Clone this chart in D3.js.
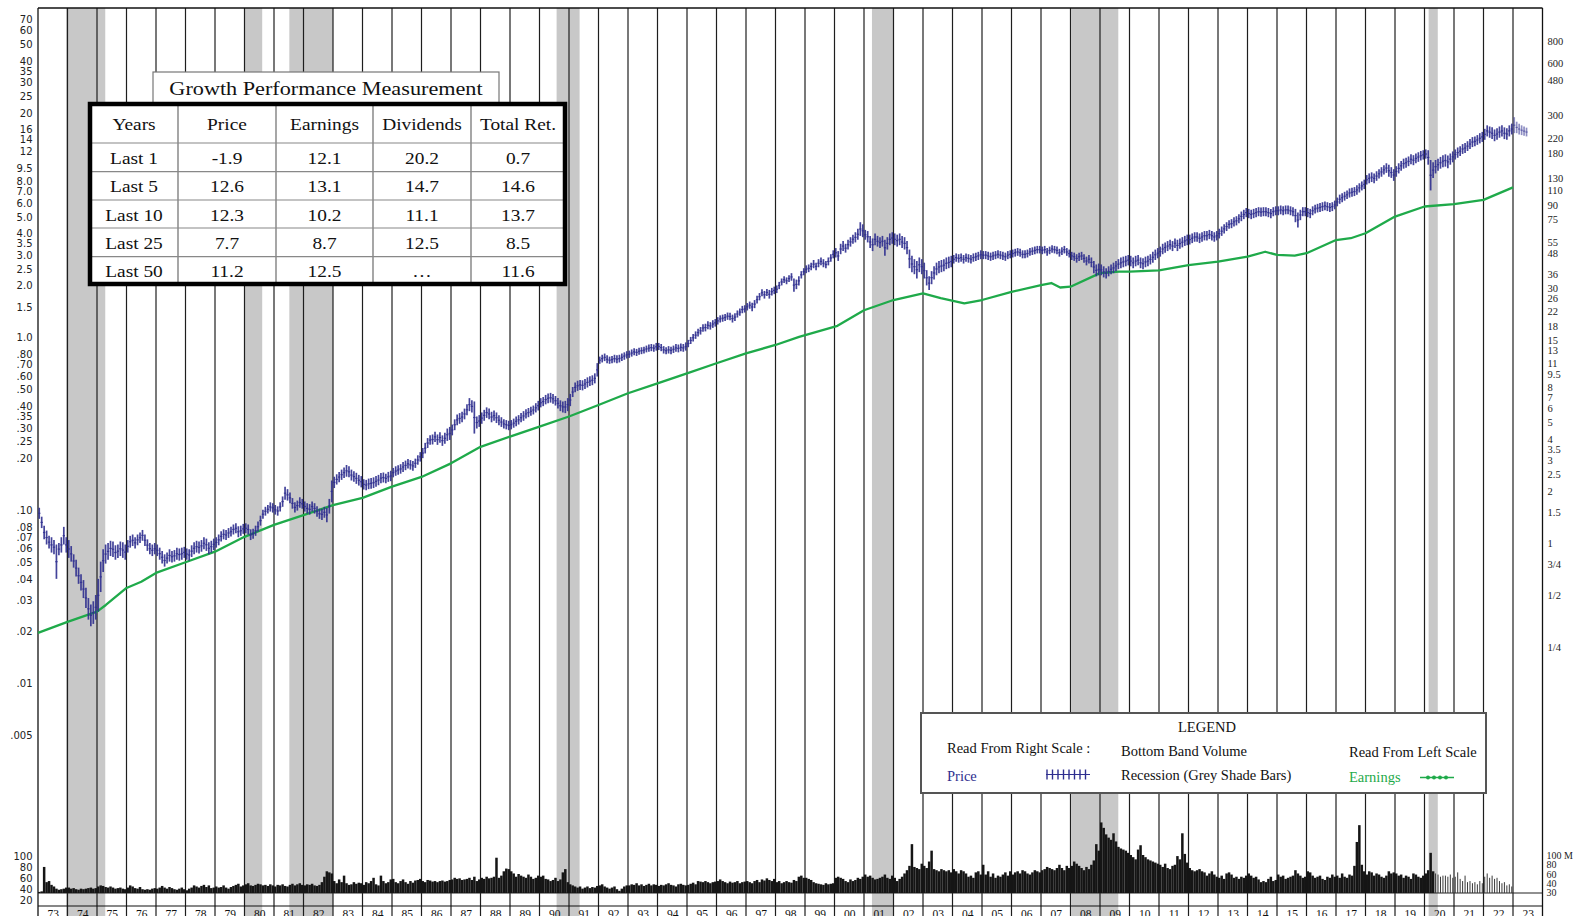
<!DOCTYPE html>
<html>
<head>
<meta charset="utf-8">
<script src="https://cdn.jsdelivr.net/npm/d3@7"></script>
<style>
  body { margin: 0; background: #fff; }
  svg { display: block; }
  .serif { font-family: "Liberation Serif", "Times New Roman", serif; }
  .sans { font-family: "DejaVu Sans", Verdana, sans-serif; }
</style>
</head>
<body>
<svg id="chart" width="1573" height="916"></svg>
<script>
// ---------- data ----------
const firstYear = 1973;
const yearLabels = ["73","74","75","76","77","78","79","80","81","82","83","84","85","86","87","88","89","90",
  "91","92","93","94","95","96","97","98","99","00","01","02","03","04","05","06","07","08","09","10",
  "11","12","13","14","15","16","17","18","19","20","21","22","23"];

// recession periods (fractional years)
const recessionStart = [1973.95, 1980.0, 1981.52, 1990.58, 2001.27, 2008.03, 2020.14];
const recessionEnd   = [1975.28, 1980.6, 1983.0, 1991.36, 2002.0, 2009.62, 2020.45];

// monthly price range (right scale), one row per year
const priceLo = [
  [1.38,1.22,1.05,0.98,0.93,0.88,0.86,0.62,0.85,0.88,0.98,0.88],
  [0.82,0.78,0.72,0.64,0.58,0.53,0.48,0.42,0.36,0.33,0.34,0.36],
  [0.40,0.52,0.68,0.76,0.80,0.84,0.83,0.80,0.82,0.84,0.82,0.80],
  [0.88,0.94,0.96,0.93,0.97,1.00,1.03,0.96,0.90,0.86,0.84,0.86],
  [0.84,0.80,0.76,0.73,0.76,0.78,0.77,0.78,0.80,0.79,0.80,0.82],
  [0.80,0.79,0.83,0.86,0.88,0.87,0.89,0.92,0.90,0.86,0.88,0.91],
  [0.94,0.97,1.02,1.05,1.04,1.07,1.09,1.12,1.14,1.08,1.10,1.13],
  [1.14,1.12,1.04,1.06,1.10,1.16,1.26,1.38,1.44,1.48,1.52,1.50],
  [1.46,1.44,1.52,1.62,1.78,1.76,1.70,1.58,1.50,1.54,1.60,1.58],
  [1.52,1.48,1.46,1.52,1.48,1.42,1.38,1.36,1.40,1.32,1.48,1.72],
  [2.08,2.18,2.25,2.32,2.38,2.42,2.40,2.30,2.26,2.20,2.15,2.10],
  [2.04,2.02,2.05,2.06,2.08,2.12,2.16,2.22,2.24,2.22,2.26,2.28],
  [2.40,2.45,2.48,2.52,2.58,2.64,2.70,2.66,2.62,2.72,2.84,2.96],
  [3.10,3.30,3.55,3.70,3.72,3.85,3.70,3.80,3.65,3.75,3.90,3.95],
  [4.20,4.50,4.80,4.90,5.00,5.20,5.50,5.80,5.70,4.30,4.60,4.70],
  [4.90,5.10,5.30,5.20,5.00,5.10,4.95,4.80,4.70,4.60,4.55,4.50],
  [4.55,4.65,4.75,4.85,5.00,5.10,5.25,5.35,5.45,5.55,5.70,5.85],
  [6.10,6.20,6.35,6.45,6.50,6.40,6.25,6.00,5.80,5.70,5.65,5.80],
  [6.20,7.00,7.45,7.60,7.70,7.65,7.80,7.95,8.10,8.20,8.40,9.20],
  [10.9,11.1,11.3,11.0,10.9,11.0,11.1,11.0,11.1,11.3,11.5,11.7],
  [11.8,12.0,12.2,12.1,12.3,12.4,12.5,12.7,12.8,12.9,12.8,13.0],
  [13.1,12.9,12.5,12.4,12.5,12.4,12.6,12.8,12.7,12.9,12.8,13.0],
  [13.6,14.2,14.7,15.2,15.7,16.1,16.7,16.8,17.3,17.2,17.6,17.9],
  [18.4,18.9,19.1,19.3,19.6,19.5,18.9,19.3,20.2,20.7,21.4,21.6],
  [22.2,22.7,22.0,22.9,24.4,25.4,26.8,26.0,26.9,26.0,27.1,27.6],
  [28.0,29.5,31.0,32.0,31.5,32.5,33.0,28.5,29.5,31.0,34.0,35.5],
  [36.5,37.0,38.0,39.0,38.0,39.5,40.5,39.5,39.0,40.5,42.5,44.5],
  [45,43,47,49,48,50,52,54,55,57,60,59],
  [57,55,51,49,53,52,51,52,46,50,53,54],
  [53,52,53,51,50,47,39,37,36,34,37,36],
  [34,31,29.2,31.5,33.5,35.5,36.5,37,37.5,38.5,39,39.5],
  [41.5,42.5,42,42.5,41.5,42.5,42,41.5,42.5,43,43.5,44],
  [44,44,43.5,43,43.5,44,44.5,44,43.5,43,44,44.5],
  [45,45.5,46,45.5,44.5,44.5,45,46,46.5,47,47.5,47.5],
  [47,47.5,46,47,48,47.5,47,45.5,46.5,47.5,46,45],
  [43.5,43,42,43,43.5,42,40.5,41.5,39.5,36.5,35,35.5],
  [35.5,34.5,34,35,36,36.5,37.5,38.5,39,39.5,40,40.5],
  [40,39,40,40.5,39,38.5,39.5,40,41,42,43.5,44.5],
  [45.5,47,48,49,50,49,51,49,50.5,51.5,52.5,53],
  [53.5,54.5,55.5,55.5,54.5,55.5,56.5,56.5,57.5,56.5,55.5,56.5],
  [58,60,62,64,66,66.5,68,69,71,73,75,77],
  [76,75,76,77,78,77.5,78,78,77,76,78,79],
  [79,80,79,80,80,79,78,72,67,74,78,78],
  [77,76,79,81,82,82.5,83.5,84.5,83.5,82.5,83.5,85.5],
  [89,92,94,96,98,100,101,102,104,107,110,112],
  [119,121,123,121,125,129,132,136,139,132,130,125],
  [132,138,143,147,149,152,156,154,158,161,164,166],
  [168,155,110,130,138,143,147,150,151,148,155,160],
  [166,170,174,179,181,186,191,196,198,202,206,210],
  [216,226,222,218,212,216,222,226,218,216,226,232],
  [236,236,232,230,228,226]
];
const priceHi = [
  [1.60,1.42,1.26,1.18,1.10,1.08,1.04,0.98,1.00,1.08,1.24,1.08],
  [1.04,0.96,0.86,0.80,0.72,0.66,0.61,0.55,0.48,0.44,0.46,0.50],
  [0.62,0.78,0.92,0.98,1.00,1.03,1.02,0.97,0.98,1.02,1.01,0.98],
  [1.04,1.10,1.12,1.08,1.12,1.15,1.19,1.12,1.05,1.00,0.98,1.00],
  [0.98,0.94,0.90,0.86,0.88,0.92,0.90,0.91,0.94,0.93,0.94,0.95],
  [0.93,0.92,0.97,1.01,1.03,1.02,1.04,1.08,1.06,1.01,1.03,1.06],
  [1.08,1.12,1.17,1.20,1.19,1.22,1.24,1.28,1.30,1.25,1.26,1.29],
  [1.30,1.28,1.20,1.21,1.26,1.33,1.44,1.56,1.62,1.66,1.72,1.70],
  [1.66,1.63,1.72,1.86,2.12,2.05,1.96,1.82,1.72,1.76,1.84,1.80],
  [1.74,1.70,1.68,1.74,1.70,1.63,1.58,1.58,1.62,1.60,1.80,2.30],
  [2.42,2.50,2.58,2.66,2.74,2.83,2.78,2.66,2.60,2.55,2.48,2.44],
  [2.34,2.32,2.36,2.38,2.40,2.44,2.48,2.54,2.56,2.52,2.58,2.62],
  [2.72,2.78,2.82,2.86,2.94,3.00,3.06,3.02,2.98,3.08,3.22,3.36],
  [3.55,3.80,4.05,4.20,4.25,4.40,4.25,4.38,4.20,4.35,4.60,4.70],
  [4.85,5.20,5.55,5.65,5.75,6.00,6.35,6.90,6.70,6.60,5.40,5.50],
  [5.70,5.90,6.10,6.00,5.75,5.85,5.70,5.50,5.35,5.20,5.15,5.10],
  [5.15,5.25,5.40,5.50,5.65,5.80,5.95,6.05,6.15,6.25,6.45,6.65],
  [6.90,7.00,7.20,7.35,7.40,7.30,7.10,6.90,6.70,6.60,6.65,6.90],
  [7.30,8.00,8.50,8.70,8.80,8.75,8.90,9.10,9.25,9.35,9.60,11.0],
  [12.0,12.3,12.5,12.2,12.0,12.1,12.3,12.2,12.3,12.5,12.7,12.9],
  [13.0,13.2,13.4,13.3,13.5,13.6,13.7,13.9,14.1,14.2,14.1,14.4],
  [14.4,14.2,13.8,13.6,13.8,13.7,13.9,14.2,14.1,14.3,14.2,14.5],
  [15.0,15.6,16.2,16.8,17.4,17.8,18.5,18.6,19.2,19.0,19.5,19.8],
  [20.3,20.8,21.0,21.2,21.6,21.5,21.0,21.4,22.2,22.8,23.6,23.8],
  [24.5,25.0,24.6,25.5,27.0,28.0,29.5,28.8,29.6,29.2,30.0,30.5],
  [31.0,32.5,34.0,35.0,34.5,35.5,36.5,34.0,33.5,35.0,37.5,39.0],
  [40.5,41.0,42.0,43.5,42.0,44.0,45.0,44.0,43.0,45.0,47.0,49.5],
  [51,49,54,56,54,57,59,61,63,66,72,70],
  [65,64,60,58,62,60,59,60,57,59,62,63],
  [62,61,62,60,59,56,50,46,44,43,45,44],
  [42,38,35,37.5,40,42,43,43.5,44,45,45.5,46],
  [46.5,47.5,47,47.5,46.5,47.5,47,46.5,47.5,48,48.5,49.5],
  [49,49,48.5,48,48.5,49,49.5,49,48.5,48,49,49.5],
  [50,50.5,51,50.5,49.5,49.5,50,51,51.5,52,52.5,52.5],
  [52,52.5,51,52,53,52.5,52,50.5,51.5,52.5,51,50],
  [48.5,48,47,48,48.5,47,45.5,46.5,45,43,41,41.5],
  [41,40,39,40,41,42,43,44,45,45.5,46,46.5],
  [46,45,46,46.5,45,44.5,45.5,46,47,48.5,50,51],
  [52,54,55,56,57,56,58,57,58,59,60,61],
  [61,62,63,63,62,63,64,64,65,64,63,64],
  [66,68,70,72,74,75,77,78,80,83,85,87],
  [86,85,86,87,88,87.5,88,88,87,86,88,89],
  [89,90,89,90,90,89,88,86,82,85,88,88],
  [87,86,89,91,92,93,94,95,94,93,94,96],
  [100,104,106,108,110,113,114,115,118,121,124,127],
  [135,138,140,138,142,146,150,154,158,155,150,146],
  [152,158,163,168,170,173,178,176,180,183,186,188],
  [190,188,165,160,165,168,172,176,178,175,180,185],
  [190,195,198,204,207,212,218,224,226,230,236,240],
  [250,262,258,255,248,252,258,262,255,252,262,268],
  [292,275,268,262,258,254]
];

// earnings per share (left scale)
const earnDates = [1973.0,1974.0,1975.0,1975.3,1976.0,1976.5,1977.0,1978.0,1979.0,1980.0,1981.0,1982.0,
  1983.0,1984.0,1985.0,1986.0,1987.0,1988.0,1989.0,1990.0,1991.0,1992.0,1993.0,1994.0,1995.0,1996.0,
  1997.0,1998.0,1998.8,2000.1,2001.0,2002.0,2003.0,2003.6,2004.4,2005.0,2006.0,2007.0,2007.35,2007.65,
  2008.0,2009.0,2009.65,2010.0,2011.0,2012.0,2013.0,2014.0,2014.6,2015.0,2015.6,2016.0,2017.0,2017.5,
  2018.0,2019.0,2020.0,2021.0,2022.0,2023.0];
const earnValues = [0.0195,0.0226,0.0259,0.0283,0.0355,0.0386,0.0434,0.050,0.0576,0.0702,0.0823,0.0937,
  0.107,0.118,0.137,0.156,0.187,0.233,0.267,0.305,0.349,0.407,0.476,0.543,0.621,0.710,
  0.811,0.906,1.01,1.17,1.44,1.65,1.80,1.69,1.58,1.65,1.84,2.01,2.07,1.95,
  1.97,2.36,2.41,2.41,2.45,2.63,2.75,2.94,3.14,3.01,2.98,3.08,3.67,3.76,
  4.02,5.02,5.74,5.92,6.27,7.41];

// monthly volume, millions of shares, one row per year
const volume = [
  [32,33,78,50,52,45,42,38,36,37,38,40],
  [40,38,39,37,36,38,37,38,39,40,38,39],
  [42,44,43,41,40,42,40,38,39,40,38,37],
  [40,44,42,39,38,41,37,36,37,36,38,39],
  [38,40,43,40,38,41,39,37,36,38,40,37],
  [35,38,40,44,42,40,43,45,41,44,39,40],
  [42,40,41,44,40,38,41,43,45,47,42,44],
  [46,48,44,43,45,47,46,44,45,43,46,44],
  [42,45,44,46,43,42,45,47,44,46,48,45],
  [44,46,45,47,44,43,45,50,60,70,68,66],
  [52,48,55,50,62,48,45,46,50,47,49,48],
  [45,50,48,52,58,46,44,62,52,48,50,55],
  [56,50,48,52,55,50,47,52,49,53,54,56],
  [52,50,54,53,51,52,50,52,53,51,52,54],
  [55,58,56,57,54,55,56,58,54,60,52,55],
  [58,56,60,57,58,60,95,58,62,70,75,74],
  [70,66,60,65,62,60,58,64,60,56,58,62],
  [60,62,56,55,52,54,58,52,55,68,74,50],
  [46,44,42,40,42,38,40,42,39,41,40,43],
  [44,46,42,40,38,40,42,37,34,38,42,44],
  [44,46,45,48,44,46,43,45,47,44,46,45],
  [43,45,44,46,48,45,44,42,46,47,45,44],
  [45,47,49,46,52,51,50,52,50,48,50,51],
  [52,55,52,50,48,51,49,50,52,48,50,51],
  [52,50,48,52,54,50,55,53,57,54,52,56],
  [50,52,48,50,52,50,49,54,52,60,62,58],
  [58,56,54,50,48,47,46,45,48,46,47,48],
  [58,60,58,56,52,50,55,52,54,58,56,60],
  [64,60,62,58,55,56,58,60,64,58,56,62],
  [58,52,56,60,66,72,80,120,78,76,74,84],
  [80,76,88,108,74,72,70,74,72,70,72,68],
  [74,70,66,72,70,66,60,62,58,68,70,64],
  [82,64,70,60,66,58,62,60,64,68,62,70],
  [64,68,70,66,72,70,66,64,68,72,70,68],
  [72,74,78,76,74,72,76,82,76,72,80,76],
  [80,88,84,80,76,72,78,74,82,90,120,108],
  [160,150,138,132,128,140,125,115,112,110,108,104],
  [100,96,92,110,118,100,96,92,90,88,86,84],
  [82,78,84,76,74,80,82,98,92,140,102,86],
  [76,72,70,72,74,70,68,62,66,70,64,60],
  [58,62,56,66,68,64,58,60,56,60,58,62],
  [66,62,58,60,55,50,52,50,56,60,52,54],
  [64,60,62,56,58,60,62,72,66,62,58,60],
  [70,68,62,58,60,62,56,54,60,58,64,60],
  [62,58,66,60,58,64,62,80,124,155,82,70],
  [64,70,68,62,66,64,60,58,62,70,66,68],
  [66,62,64,58,62,60,56,66,64,60,58,62],
  [66,72,104,70,66,64,60,62,62,60,64,58],
  [60,68,56,52,62,50,52,48,50,46,52,48],
  [60,66,58,62,56,58,52,48,50,44,46,42]
];

// axis tick values and labels
const leftTicks = [70,60,50,40,35,30,25,20,16,14,12,9.5,8,7,6,5,4,3.5,3,2.5,2,1.5,1,.8,.7,.6,.5,.4,.35,.3,.25,.2,.1,.08,.07,.06,.05,.04,.03,.02,.01,.005];
const leftLabels = ["70","60","50","40","35","30","25","20","16","14","12","9.5","8.0","7.0","6.0","5.0","4.0","3.5","3.0","2.5","2.0","1.5","1.0",".80",".70",".60",".50",".40",".35",".30",".25",".20",".10",".08",".07",".06",".05",".04",".03",".02",".01",".005"];
const rightTicks = [800,600,480,300,220,180,130,110,90,75,55,48,36,30,26,22,18,15,13,11,9.5,8,7,6,5,4,3.5,3,2.5,2,1.5,1,0.75,0.5,0.25];
const rightLabels = ["800","600","480","300","220","180","130","110","90","75","55","48","36","30","26","22","18","15","13","11","9.5","8","7","6","5","4","3.5","3","2.5","2","1.5","1","3/4","1/2","1/4"];
const volLeftTicks = [100,80,60,40,20];
const volRightTicks = [100,80,60,40,30];
const volRightLabels = ["100 M","80","60","40","30"];

// growth table
const tableHeaders = ["Years","Price","Earnings","Dividends","Total Ret."];
const tablePeriods = ["Last 1","Last 5","Last 10","Last 25","Last 50"];
const priceGrowth = ["-1.9","12.6","12.3","7.7","11.2"];
const earningsGrowth = ["12.1","13.1","10.2","8.7","12.5"];
const dividendGrowth = ["20.2","14.7","11.1","12.5","\u2026"];
const totalReturn = ["0.7","14.6","13.7","8.5","11.6"];

// ---------- layout ----------
const plotLeft = 38, plotRight = 1542.5, plotTop = 8, labelRowTop = 906;
const priceColor = "#2f2f8f", earnColor = "#1faa4a";

const svg = d3.select("#chart");
svg.append("rect").attr("width", 1573).attr("height", 916).attr("fill", "#fff");

const x = d3.scaleLinear().domain([firstYear, firstYear + yearLabels.length]).range([plotLeft, plotRight]);
const yPrice = d3.scaleLog().domain([1, 800]).range([543, 41.6]);
const yEarn = d3.scaleLog().domain([0.01, 70]).range([683, 18.9]);
const yVol = d3.scaleLinear().domain([30, 100]).range([893, 855]);
const yVolLeft = d3.scaleLinear().domain([20, 100]).range([900.7, 856.7]);
// the printed right-hand volume guide is spaced unevenly near the baseline
const yVolGuide = d3.scaleLinear().domain([30, 40, 60, 80, 100]).range([892.5, 883.5, 874, 864.5, 855.5]);

// recession shading
svg.append("g").selectAll("rect")
  .data(recessionStart.map((s, i) => [s, recessionEnd[i]]))
  .join("rect")
  .attr("x", d => x(d[0])).attr("width", d => x(d[1]) - x(d[0]))
  .attr("y", plotTop).attr("height", 916 - plotTop)
  .attr("fill", "#c8c8c8");

// year grid lines
svg.append("g").selectAll("line")
  .data(d3.range(1, yearLabels.length))
  .join("line")
  .attr("x1", d => x(firstYear + d)).attr("x2", d => x(firstYear + d))
  .attr("y1", plotTop).attr("y2", 916)
  .attr("stroke", "#1e1e1e").attr("stroke-width", 1.2);

// frame
svg.append("line").attr("x1", plotLeft).attr("x2", plotRight).attr("y1", plotTop).attr("y2", plotTop)
  .attr("stroke", "#111").attr("stroke-width", 1.3);
svg.append("line").attr("x1", plotLeft).attr("x2", plotLeft).attr("y1", plotTop).attr("y2", 916)
  .attr("stroke", "#111").attr("stroke-width", 1.3);
svg.append("line").attr("x1", plotRight).attr("x2", plotRight).attr("y1", plotTop).attr("y2", 916)
  .attr("stroke", "#111").attr("stroke-width", 1.3);
svg.append("line").attr("x1", plotLeft).attr("x2", plotRight).attr("y1", labelRowTop).attr("y2", labelRowTop)
  .attr("stroke", "#111").attr("stroke-width", 1.2);

// volume band
const volData = [];
volume.forEach((row, i) => row.forEach((v, m) => volData.push({ t: firstYear + i + (m + 0.5) / 12, v })));
svg.append("line").attr("x1", plotLeft).attr("x2", plotRight).attr("y1", yVol(30)).attr("y2", yVol(30))
  .attr("stroke", "#222").attr("stroke-width", 1.2);
svg.append("g").selectAll("rect")
  .data(volData)
  .join("rect")
  .attr("x", d => x(d.t) - (d.t > 2020.3 ? 0.5 : 1.25))
  .attr("width", d => d.t > 2020.3 ? 1 : 2.5)
  .attr("y", d => yVol(d.v))
  .attr("height", d => yVol(30) - yVol(d.v))
  .attr("fill", d => d.t > 2020.3 ? "#3a3a3a" : "#151515");

// earnings line
svg.append("path")
  .datum(earnDates.map((t, i) => [t, earnValues[i]]))
  .attr("fill", "none").attr("stroke", earnColor).attr("stroke-width", 2.3)
  .attr("stroke-linejoin", "round")
  .attr("d", d3.line().x(d => x(d[0])).y(d => yEarn(d[1])));

// price range bars
const priceData = [];
priceLo.forEach((row, i) => row.forEach((lo, m) =>
  priceData.push({ t: firstYear + i + (m + 0.5) / 12, lo, hi: priceHi[i][m] })));
const bars = svg.append("g").attr("stroke", priceColor);
bars.selectAll("line.bar")
  .data(priceData)
  .join("line").attr("class", "bar")
  .attr("x1", d => x(d.t)).attr("x2", d => x(d.t))
  .attr("y1", d => yPrice(d.lo)).attr("y2", d => yPrice(d.hi))
  .attr("stroke-width", 1.7)
  .attr("stroke-opacity", d => d.t > 2023 ? 0.55 : 0.9);
bars.selectAll("line.tick")
  .data(priceData)
  .join("line").attr("class", "tick")
  .attr("x1", d => x(d.t) - 1.2).attr("x2", d => x(d.t) + 1.2)
  .attr("y1", d => (yPrice(d.lo) + yPrice(d.hi)) / 2).attr("y2", d => (yPrice(d.lo) + yPrice(d.hi)) / 2)
  .attr("stroke-width", 1.2)
  .attr("stroke-opacity", d => d.t > 2023 ? 0.55 : 0.85);

// axes
function styleAxis(g, cls, size, color) {
  g.select(".domain").remove();
  g.selectAll("text").attr("class", cls).attr("font-size", size).attr("fill", color);
}
svg.append("g").attr("transform", `translate(${plotLeft},0)`)
  .call(d3.axisLeft(yEarn).tickValues(leftTicks).tickFormat((d, i) => leftLabels[i]).tickSize(0).tickPadding(5.5))
  .call(g => styleAxis(g, "sans", "10px", "#222"));
svg.append("g").attr("transform", `translate(${plotRight},0)`)
  .call(d3.axisRight(yPrice).tickValues(rightTicks).tickFormat((d, i) => rightLabels[i]).tickSize(0).tickPadding(5))
  .call(g => styleAxis(g, "serif", "10.5px", "#222"));
svg.append("g").attr("transform", `translate(${plotLeft},0)`)
  .call(d3.axisLeft(yVolLeft).tickValues(volLeftTicks).tickSize(0).tickPadding(5.5))
  .call(g => styleAxis(g, "sans", "10px", "#222"));
svg.append("g").attr("transform", `translate(${plotRight},0)`)
  .call(d3.axisRight(yVolGuide).tickValues(volRightTicks).tickFormat((d, i) => volRightLabels[i]).tickSize(0).tickPadding(4))
  .call(g => styleAxis(g, "serif", "10px", "#222"));
svg.append("g").attr("transform", `translate(0,${labelRowTop})`)
  .call(d3.axisBottom(x).tickValues(yearLabels.map((_, i) => firstYear + i + 0.5))
    .tickFormat((d, i) => yearLabels[i]).tickSize(0).tickPadding(4))
  .call(g => styleAxis(g, "serif", "11.5px", "#111"));

// growth table
const colEdges = [90, 178, 276, 373, 471, 565];
const rowEdges = [104, 143, 171.7, 200, 228, 256.7, 284];
const stretch = 1.14;
function stretchedText(parent, cx, cy, str, size, color) {
  parent.append("g").attr("transform", `translate(${cx},${cy}) scale(${stretch},1)`)
    .append("text").attr("class", "serif").attr("text-anchor", "middle")
    .attr("dominant-baseline", "central").attr("font-size", size).attr("fill", color || "#111")
    .text(str);
}
const tbl = svg.append("g");
tbl.append("rect").attr("x", 153).attr("y", 72).attr("width", 346).attr("height", 33)
  .attr("fill", "#fff").attr("stroke", "#777").attr("stroke-width", 1.2);
stretchedText(tbl, 326, 88, "Growth Performance Measurement", "19.5px");
tbl.append("rect").attr("x", colEdges[0]).attr("y", rowEdges[0])
  .attr("width", colEdges[5] - colEdges[0]).attr("height", rowEdges[6] - rowEdges[0]).attr("fill", "#fff");
colEdges.slice(1, 5).forEach(c => tbl.append("line").attr("x1", c).attr("x2", c)
  .attr("y1", rowEdges[0]).attr("y2", rowEdges[6]).attr("stroke", "#777").attr("stroke-width", 1.3));
rowEdges.slice(1, 6).forEach(r => tbl.append("line").attr("x1", colEdges[0]).attr("x2", colEdges[5])
  .attr("y1", r).attr("y2", r).attr("stroke", "#888").attr("stroke-width", 1.2));
tbl.append("rect").attr("x", colEdges[0]).attr("y", rowEdges[0])
  .attr("width", colEdges[5] - colEdges[0]).attr("height", rowEdges[6] - rowEdges[0])
  .attr("fill", "none").attr("stroke", "#000").attr("stroke-width", 4.5);
const colCenter = i => (colEdges[i] + colEdges[i + 1]) / 2;
const rowCenter = i => (rowEdges[i] + rowEdges[i + 1]) / 2;
tableHeaders.forEach((h, i) => stretchedText(tbl, colCenter(i), rowCenter(0) + 1, h, "17px"));
const columns = [tablePeriods, priceGrowth, earningsGrowth, dividendGrowth, totalReturn];
columns.forEach((col, c) => col.forEach((v, r) => stretchedText(tbl, colCenter(c), rowCenter(r + 1) + 1, v, "17px")));

// legend
const lg = svg.append("g").attr("class", "serif");
lg.append("rect").attr("x", 921).attr("y", 713).attr("width", 565).attr("height", 80)
  .attr("fill", "#fff").attr("stroke", "#555").attr("stroke-width", 2);
const legendText = (tx, ty, str, color, anchor) => lg.append("text")
  .attr("x", tx).attr("y", ty).attr("font-size", "14.5px").attr("fill", color || "#111")
  .attr("text-anchor", anchor || "start").attr("dominant-baseline", "central").text(str);
legendText(1207, 727, "LEGEND", "#111", "middle");
legendText(947, 748, "Read From Right Scale :");
legendText(1121, 751, "Bottom Band Volume");
legendText(1349, 752, "Read From Left Scale");
legendText(947, 776, "Price", priceColor);
legendText(1121, 775, "Recession (Grey Shade Bars)");
legendText(1349, 777, "Earnings", earnColor);
// price marker sample
const iconX = d3.range(1047, 1091, 5.5);
lg.append("line").attr("x1", 1046).attr("x2", 1090).attr("y1", 774.5).attr("y2", 774.5)
  .attr("stroke", priceColor).attr("stroke-width", 1.2);
lg.selectAll("line.icon").data(iconX).join("line").attr("class", "icon")
  .attr("x1", d => d).attr("x2", d => d).attr("y1", 769.5).attr("y2", 779.5)
  .attr("stroke", priceColor).attr("stroke-width", 1.4);
// earnings marker sample
lg.append("line").attr("x1", 1420).attr("x2", 1454).attr("y1", 777.5).attr("y2", 777.5)
  .attr("stroke", earnColor).attr("stroke-width", 1.6);
lg.selectAll("circle").data([1428, 1434, 1440, 1446]).join("circle")
  .attr("cx", d => d).attr("cy", 777.5).attr("r", 2).attr("fill", earnColor);
</script>
</body>
</html>
